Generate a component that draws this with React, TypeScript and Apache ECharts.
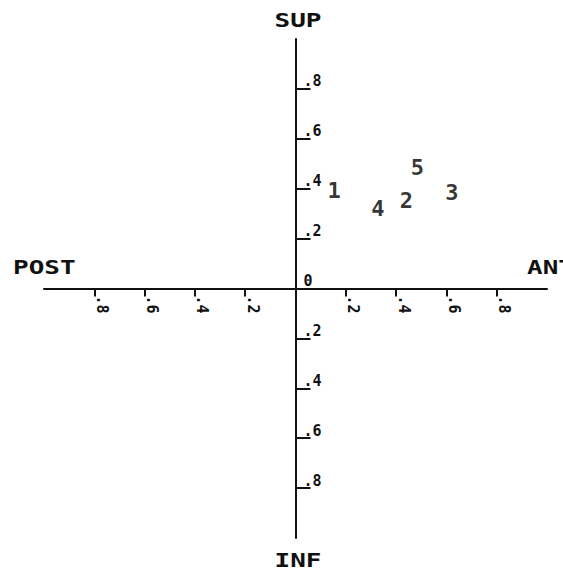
import React, { useEffect, useRef } from "react";
import * as echarts from "echarts";

// Point labels and their coordinates (x: POST − / ANT +, y: INF − / SUP +)
const pointNames = ["1", "2", "3", "4", "5"];
const antPost = [0.154, 0.441, 0.622, 0.328, 0.485];
const supInf = [0.393, 0.353, 0.383, 0.319, 0.483];

// Tick positions on both axes; the vertical axis also labels the origin
const tickValues = [-0.8, -0.6, -0.4, -0.2, 0.2, 0.4, 0.6, 0.8];
const yLabelValues = [-0.8, -0.6, -0.4, -0.2, 0, 0.2, 0.4, 0.6, 0.8];

// Direction names at the ends of the axes
const nameTop = "SUP";
const nameBottom = "INF";
const nameLeft = "POST";
const nameRight = "ANT";

const INK = "#111";
const MONO = "'DejaVu Sans Mono', monospace";

const GRID_LEFT = 44;
const GRID_TOP = 39;
const GRID_W = 503;
const GRID_H = 499;

const tickText = (v: number) =>
  Math.abs(v) < 1e-9 ? "0" : "." + Math.round(Math.abs(v) * 10);

export default function App() {
  const ref = useRef<HTMLDivElement>(null);

  useEffect(() => {
    if (!ref.current) return;
    const chart = echarts.init(ref.current, null, { renderer: "svg" });

    const bigText = (text: string, x: number, y: number, align: string) => ({
      type: "text",
      x,
      y,
      scaleX: 1.3,
      style: {
        text,
        fill: INK,
        fontFamily: MONO,
        fontWeight: "bold",
        fontSize: 20,
        align,
        verticalAlign: "middle",
      },
    });

    chart.setOption({
      animation: false,
      backgroundColor: "#fff",
      grid: {
        left: GRID_LEFT,
        top: GRID_TOP,
        width: GRID_W,
        height: GRID_H,
        outerBoundsMode: "none",
      },
      xAxis: {
        type: "value",
        min: -1,
        max: 1,
        interval: 0.2,
        position: "bottom",
        // axes cross at the centre of the plot
        offset: -GRID_H / 2,
        splitLine: { show: false },
        axisLine: { onZero: false, lineStyle: { color: INK, width: 2 } },
        axisTick: {
          customValues: tickValues,
          length: 8,
          lineStyle: { color: INK, width: 2 },
        },
        axisLabel: {
          customValues: tickValues,
          rotate: -90,
          margin: 7,
          verticalAlign: "bottom",
          color: INK,
          fontFamily: MONO,
          fontWeight: "bold",
          fontSize: 15,
          formatter: tickText,
        },
      },
      yAxis: {
        type: "value",
        min: -1,
        max: 1,
        interval: 0.2,
        position: "left",
        offset: -GRID_W / 2,
        splitLine: { show: false },
        axisLine: { onZero: false, lineStyle: { color: INK, width: 2 } },
        axisTick: {
          inside: true,
          customValues: tickValues,
          length: 15,
          lineStyle: { color: INK, width: 2 },
        },
        axisLabel: {
          inside: true,
          customValues: yLabelValues,
          margin: 8,
          verticalAlign: "bottom",
          color: INK,
          fontFamily: MONO,
          fontWeight: "bold",
          fontSize: 15,
          formatter: tickText,
        },
      },
      series: [
        {
          type: "scatter",
          symbolSize: 1,
          itemStyle: { color: "rgba(0,0,0,0)" },
          data: pointNames.map((name, i) => ({
            name,
            value: [antPost[i], supInf[i]],
          })),
          label: {
            show: true,
            position: "inside",
            formatter: "{b}",
            color: "#000",
            fontFamily: MONO,
            fontWeight: "bold",
            fontSize: 22,
          },
        },
      ],
      graphic: [
        bigText(nameTop, 298, 20, "center"),
        bigText(nameBottom, 298, 560, "center"),
        bigText(nameLeft, 13, 267, "left"),
        bigText(nameRight, 527, 267, "left"),
      ],
    });

    return () => chart.dispose();
  }, []);

  return (
    <div
      ref={ref}
      style={{ position: "fixed", left: 0, top: 0, width: 563, height: 577 }}
    />
  );
}
